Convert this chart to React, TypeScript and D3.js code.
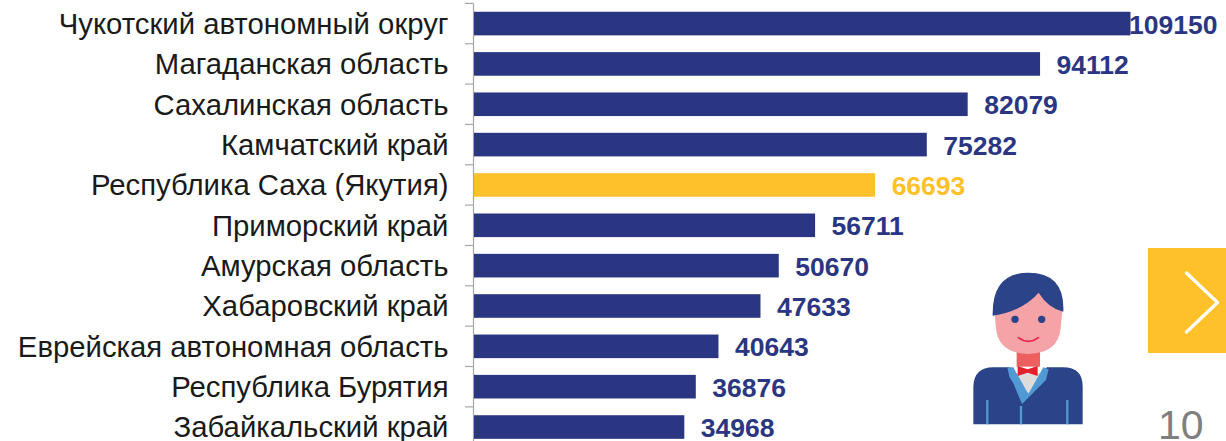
import React from "react";
import * as d3 from "d3";

const categories = ["Чукотский автономный округ","Магаданская область","Сахалинская область","Камчатский край","Республика Саха (Якутия)","Приморский край","Амурская область","Хабаровский край","Еврейская автономная область","Республика Бурятия","Забайкальский край"];
const values = [109150,94112,82079,75282,66693,56711,50670,47633,40643,36876,34968];
const highlighted = "Республика Саха (Якутия)";
const pageNumber = "10";

const NAVY = "#2b3682";
const GOLD = "#ffc12a";
const FONT = "'Liberation Sans', Arial, sans-serif";

export default function App() {
  const x = d3.scaleLinear().domain([0, 109150]).range([474, 1130.5]);
  const y = d3.scaleBand().domain(categories).range([3.4, 447.2]).paddingInner(0.415).paddingOuter(0.2075);
  const step = y.step();
  const top = (y(categories[0]) as number) - (step - y.bandwidth()) / 2;
  return (
    <svg width={1226} height={441} style={{ position: "absolute", left: 0, top: 0, background: "#fff" }}>
      <line x1={473.5} x2={473.5} y1={top} y2={441} stroke="#a6a6a6" strokeWidth={1.2} />
      {d3.range(categories.length + 1).map((i) => (
        <line key={i} x1={465} x2={473.5} y1={top + i * step} y2={top + i * step} stroke="#a6a6a6" strokeWidth={1.2} />
      ))}
      {categories.map((c, i) => {
        const col = c === highlighted ? GOLD : NAVY;
        const by = y(c) as number;
        const cy = by + y.bandwidth() / 2;
        return (
          <g key={c}>
            <rect x={x(0)} y={by} width={x(values[i]) - x(0)} height={y.bandwidth()} fill={col} />
            <text x={448.5} y={cy + 10.3} textAnchor="end" fontFamily={FONT} fontSize={29.3} fill="#1a1a1a">{c}</text>
            <text x={x(values[i]) + (i === 0 ? -1.5 : 16.5)} y={cy + 10} fontFamily={FONT} fontSize={26.5} fontWeight={700} fill={col}>{values[i]}</text>
          </g>
        );
      })}
      <rect x={1148} y={248} width={78} height={105} fill={GOLD} />
      <path d="M1186.5,273 L1217.5,302.5 L1186.5,332" fill="none" stroke="#fff" strokeWidth={3.4} strokeLinecap="round" strokeLinejoin="round" />
      <text x={1158} y={439} fontFamily={FONT} fontSize={41} fill="#7f7f7f">{pageNumber}</text>
      <g transform="translate(950,250) scale(0.33333)">
        <rect x={200} y={300} width={70} height={50} fill="#ee6060" />
        <path d="M132,170 L138,235 Q145,310 235,312 Q325,310 332,235 L338,170 L265,110 Z" fill="#f5a3a6" />
        <path d="M128,197 Q125,68 235,68 Q345,68 340,185 Q295,175 266,128 Q215,185 128,197 Z" fill="#2b4388" />
        <circle cx={195} cy={208} r={11} fill="#2b4388" />
        <circle cx={275} cy={208} r={11} fill="#2b4388" />
        <path d="M205,263 Q235,285 265,263" fill="none" stroke="#e8274b" strokeWidth={5} strokeLinecap="round" />
        <path d="M70,523 L70,410 Q72,352 130,352 L178,352 L235,430 L290,352 L340,352 Q398,352 398,410 L398,523 Z" fill="#2b4388" />
        <path d="M190,370 L280,370 L235,432 Z" fill="#dcdcdc" />
        <path d="M172,352 L190,352 L235,432 L280,352 L296,358 L288,390 L216,462 L190,400 L178,380 Z" fill="#5199d2" />
        <path d="M203,348 L233,358 L263,348 L263,378 L233,368 L203,378 Z" fill="#e3202b" />
        <path d="M112,523 L112,450 M352,523 L352,450 M213,523 L213,468" stroke="#5199d2" strokeWidth={7} fill="none" />
      </g>
    </svg>
  );
}
